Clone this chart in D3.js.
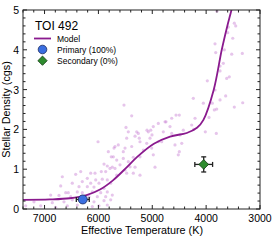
<!DOCTYPE html>
<html><head><meta charset="utf-8">
<script src="https://cdn.jsdelivr.net/npm/d3@7"></script>
<style>body{margin:0;background:#fff}svg{display:block}text{font-family:"Liberation Sans",Arial,sans-serif;fill:#000}</style>
</head><body><svg id="c" width="274" height="240"></svg>
<script>
const title = "TOI 492";
const xTicks = [7000, 6000, 5000, 4000, 3000];
const yTicks = [0, 1, 2, 3, 4, 5];
const modelT = [7400, 6900, 6530, 6220, 5970, 5730, 5480, 5280, 4970, 4670, 4360, 4170, 4050, 3860, 3710, 3610, 3530, 3480];
const modelRho = [0.23, 0.24, 0.27, 0.35, 0.49, 0.72, 1.04, 1.31, 1.64, 1.82, 1.91, 2.04, 2.24, 2.99, 4.0, 4.58, 5.0, 5.3];
const starT = [6007,5896,5761,5835,5785,5742,5946,5865,6063,6143,6329,6422,6670,6206,6050,5928,5835,6299,6485,6143,5989,5772,6700,6360,6206,6082,5896,6607,6559,6392,6299,6113,5957,5835,6886,6732,6514,6175,6020,5865,5742,7196,6856,6639,6485,6082,5896,5772,7350,7071,6793,6577,6392,6113,5989,5835,
5525,5382,5488,5445,5475,5631,5710,5506,5538,5382,5320,5241,5228,5259,5074,5029,4981,4888,4745,4639,4559,4498,4795,4671,4639,4485,4424,4268,4238,4578,4453,4498,4517,4825,4888,5042,5103,5010,5166,4981,5228,5352,5538,5660,5723,5445,5599,5413,5692,5506,5320,4949,5228,5475,5352,5660,
3477,3451,3588,3599,3506,3835,3662,3822,3328,3525,3681,3742,3742,3618,3570,3978,3835,3637,3742,3885,4052,3321,3477,3804,3848,4206,3947,5098,5005,4763,4015,3811,4231,5289,5816,5692,3800];
const starRho = [1.69,1.13,1.31,1.08,1.02,1.05,0.94,0.94,0.90,0.90,0.94,0.87,0.81,0.77,0.73,0.75,0.73,0.69,0.65,0.65,0.65,0.65,0.58,0.56,0.56,0.55,0.52,0.41,0.41,0.43,0.41,0.43,0.41,0.43,0.35,0.34,0.31,0.31,0.31,0.31,0.35,0.18,0.16,0.18,0.23,0.18,0.21,0.23,0.08,0.08,0.04,0.08,0.10,0.06,0.08,0.10,
2.61,2.34,2.05,1.94,1.78,1.61,1.53,1.53,1.44,1.57,1.83,1.78,1.69,1.90,1.94,1.98,2.07,2.15,2.19,2.28,2.36,2.36,1.94,2.07,1.90,1.86,1.98,2.11,2.78,1.61,1.65,1.44,1.36,1.69,1.69,1.78,1.65,1.53,1.48,1.36,1.31,1.30,1.27,1.23,1.31,1.19,1.11,1.06,1.02,0.98,1.05,1.05,0.85,0.90,0.90,0.85,
4.67,4.60,4.57,4.43,4.29,4.15,4.00,3.93,3.91,3.89,3.66,3.59,3.47,3.28,3.32,3.22,2.99,2.84,2.74,2.66,2.66,2.67,2.56,2.51,2.49,2.28,2.30,1.98,1.86,2.19,1.94,1.90,2.00,1.94,1.44,1.57,4.97];
const primary = {T: 6290, rho: 0.24, eT: 120, eRho: 0.05};
const secondary = {T: 4045, rho: 1.12, eT: 165, eRho: 0.19};
const legendLabels = ["Model", "Primary (100%)", "Secondary (0%)"];

const svg = d3.select("#c");
const L = 23, R = 260, T = 10, B = 209;
const x = d3.scaleLinear().domain([7400, 3000]).range([L, R]);
const y = d3.scaleLinear().domain([0, 5]).range([B, T]);

svg.append("clipPath").attr("id","clip").append("rect").attr("x",L).attr("y",T).attr("width",R-L).attr("height",B-T);
const g = svg.append("g").attr("clip-path","url(#clip)");

g.selectAll("circle.s").data(starT.map((t,i)=>[t,starRho[i]])).join("circle")
  .attr("cx",d=>x(d[0])).attr("cy",d=>y(d[1])).attr("r",1.6)
  .attr("fill","#c77fd3").attr("fill-opacity",0.45);

g.append("path").datum(modelT.map((t,i)=>[t,modelRho[i]]))
  .attr("d", d3.line().x(d=>x(d[0])).y(d=>y(d[1])).curve(d3.curveCatmullRom.alpha(0.5)))
  .attr("fill","none").attr("stroke","#8a1a8e").attr("stroke-width",1.8);

function errbar(p){
  const e = g.append("g").attr("stroke","#222").attr("stroke-width",1.3);
  e.append("line").attr("x1",x(p.T-p.eT)).attr("x2",x(p.T+p.eT)).attr("y1",y(p.rho)).attr("y2",y(p.rho));
  e.append("line").attr("x1",x(p.T)).attr("x2",x(p.T)).attr("y1",y(p.rho-p.eRho)).attr("y2",y(p.rho+p.eRho));
  [[x(p.T-p.eT),y(p.rho),0],[x(p.T+p.eT),y(p.rho),0],[x(p.T),y(p.rho-p.eRho),1],[x(p.T),y(p.rho+p.eRho),1]].forEach(c=>{
    if(c[2]===0) e.append("line").attr("x1",c[0]).attr("x2",c[0]).attr("y1",c[1]-2.5).attr("y2",c[1]+2.5);
    else e.append("line").attr("x1",c[0]-2.5).attr("x2",c[0]+2.5).attr("y1",c[1]).attr("y2",c[1]);
  });
}
errbar(primary);
g.append("circle").attr("cx",x(primary.T)).attr("cy",y(primary.rho)).attr("r",4.5)
  .attr("fill","#3b6fe0").attr("stroke","#1a2a60").attr("stroke-width",0.8);
errbar(secondary);
g.append("path").attr("d",d3.symbol().type(d3.symbolDiamond2).size(60)())
  .attr("transform",`translate(${x(secondary.T)},${y(secondary.rho)})`)
  .attr("fill","#2e8b2e").attr("stroke","#123a12").attr("stroke-width",0.8);

svg.append("rect").attr("x",L).attr("y",T).attr("width",R-L).attr("height",B-T)
  .attr("fill","none").attr("stroke","#222").attr("stroke-width",1);

const minorX = d3.range(7400, 2999, -200);
const minorY = d3.range(0, 5.001, 0.2);
const tk = svg.append("g").attr("stroke","#222").attr("stroke-width",1);
minorX.forEach(v=>{
  const major = xTicks.includes(Math.round(v));
  const len = major?4:2.5;
  tk.append("line").attr("x1",x(v)).attr("x2",x(v)).attr("y1",B).attr("y2",B-len);
  tk.append("line").attr("x1",x(v)).attr("x2",x(v)).attr("y1",T).attr("y2",T+len);
});
minorY.forEach(v=>{
  const major = Math.abs(v-Math.round(v))<1e-6;
  const len = major?4:2.5;
  tk.append("line").attr("y1",y(v)).attr("y2",y(v)).attr("x1",L).attr("x2",L+len);
  tk.append("line").attr("y1",y(v)).attr("y2",y(v)).attr("x1",R).attr("x2",R-len);
});

svg.selectAll("text.xt").data(xTicks).join("text").attr("class","xt")
  .attr("x",d=>x(d)).attr("y",222).attr("text-anchor","middle").attr("font-size",10.5).text(d=>d);
svg.selectAll("text.yt").data(yTicks).join("text").attr("class","yt")
  .attr("x",19).attr("y",d=>y(d)+4).attr("text-anchor","end").attr("font-size",10.5).text(d=>d);

svg.append("text").attr("x",142).attr("y",234).attr("text-anchor","middle").attr("font-size",10.8).text("Effective Temperature (K)");
svg.append("text").attr("transform",`translate(10,${(T+B)/2}) rotate(-90)`).attr("text-anchor","middle").attr("font-size",10.8).text("Stellar Density (cgs)");

svg.append("text").attr("x",35).attr("y",30).attr("font-size",12).text(title);
svg.append("line").attr("x1",34).attr("x2",51).attr("y1",38.5).attr("y2",38.5).attr("stroke","#8a1a8e").attr("stroke-width",1.8);
svg.append("circle").attr("cx",42.5).attr("cy",49.5).attr("r",4.3).attr("fill","#3b6fe0").attr("stroke","#1a2a60").attr("stroke-width",0.8);
svg.append("path").attr("d",d3.symbol().type(d3.symbolDiamond2).size(55)()).attr("transform","translate(42.5,60.7)")
  .attr("fill","#2e8b2e").attr("stroke","#123a12").attr("stroke-width",0.8);
legendLabels.forEach((t,i)=>svg.append("text").attr("x",57).attr("y",41.5+i*11.2).attr("font-size",8.5).text(t));
</script></body></html>
